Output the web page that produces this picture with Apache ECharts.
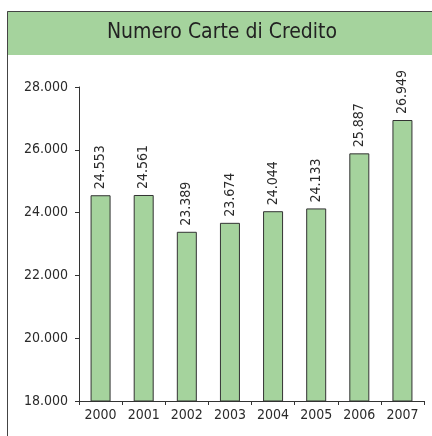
<!DOCTYPE html>
<html>
<head>
<meta charset="utf-8">
<script src="https://cdn.jsdelivr.net/npm/echarts@6/dist/echarts.min.js"></script>
<style>
  html, body { margin: 0; padding: 0; background: #fff; }
  #chart { width: 432px; height: 436px; }
</style>
</head>
<body>
<div id="chart"></div>
<script>
const categories = ['2000', '2001', '2002', '2003', '2004', '2005', '2006', '2007']
const values = [24553, 24561, 23389, 23674, 24044, 24133, 25887, 26949]
const yTicks = [18000, 28000, 2000]

const fontFam = '"DejaVu Sans Condensed", sans-serif'
const fmt = (v) => String(v).replace(/\B(?=(\d{3})+(?!\d))/g, '.')

const chart = echarts.init(document.getElementById('chart'))

const option = {
  animation: false,
  graphic: [
    {
      type: 'rect',
      shape: { x: 7, y: 11, width: 425, height: 44 },
      style: { fill: '#a5d39d' }
    },
    {
      type: 'polyline',
      shape: { points: [[7.5, 436], [7.5, 11.5], [432, 11.5]] },
      style: { stroke: '#444', lineWidth: 1, fill: null }
    },
    {
      type: 'text',
      x: 222,
      y: 33,
      style: {
        text: 'Numero Carte di Credito',
        font: '21px ' + fontFam,
        fill: '#222',
        align: 'center',
        verticalAlign: 'middle'
      }
    }
  ],
  grid: {
    left: 79,
    right: 8,
    top: 87,
    bottom: 35
  },
  xAxis: {
    type: 'category',
    data: categories,
    axisLine: { lineStyle: { color: '#333' } },
    axisTick: { show: true, length: 4, lineStyle: { color: '#333' } },
    axisLabel: { color: '#2a2a2a', fontSize: 14, fontFamily: fontFam, margin: 7 }
  },
  yAxis: {
    type: 'value',
    min: yTicks[0],
    max: yTicks[1],
    interval: yTicks[2],
    splitLine: { show: false },
    axisLine: { show: true, lineStyle: { color: '#333' } },
    axisTick: { show: true, length: 4, lineStyle: { color: '#333' } },
    axisLabel: {
      color: '#2a2a2a',
      fontSize: 14,
      fontFamily: fontFam,
      margin: 11,
      formatter: fmt
    }
  },
  series: [
    {
      type: 'bar',
      data: values,
      barWidth: 20,
      itemStyle: {
        color: '#a5d39d',
        borderColor: '#333',
        borderWidth: 1
      },
      label: {
        show: true,
        position: 'top',
        rotate: 90,
        align: 'left',
        verticalAlign: 'middle',
        distance: 6,
        color: '#2a2a2a',
        fontSize: 14,
        fontFamily: fontFam,
        formatter: (p) => fmt(p.value)
      }
    }
  ]
}

chart.setOption(option)
</script>
</body>
</html>
